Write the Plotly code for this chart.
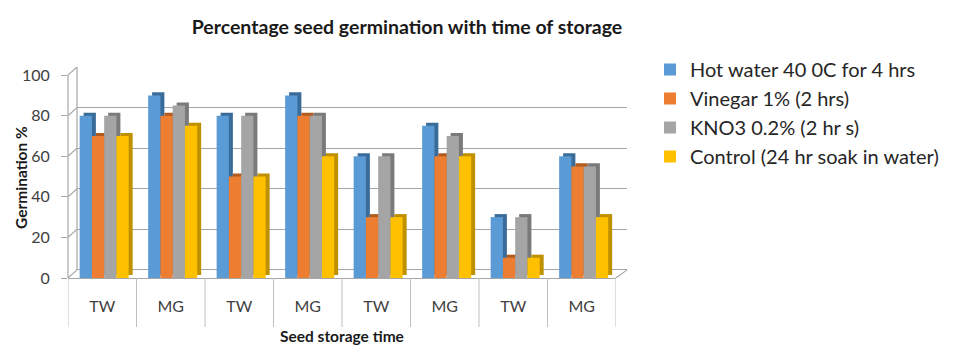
import plotly.graph_objects as go

# ---------------- data ----------------
categories = ["TW", "MG", "TW", "MG", "TW", "MG", "TW", "MG"]
series_names = [
    "Hot water 40 0C for 4 hrs",
    "Vinegar 1% (2 hrs)",
    "KNO3 0.2% (2 hr s)",
    "Control (24 hr soak in water)",
]
hot_water = [80, 90, 80, 90, 60, 75, 30, 60]
vinegar = [70, 80, 50, 80, 30, 60, 10, 55]
kno3 = [80, 85, 80, 80, 60, 70, 30, 55]
control = [70, 75, 50, 60, 30, 60, 10, 30]
y_ticks = [0, 20, 40, 60, 80, 100]

series_values = [hot_water, vinegar, kno3, control]
face_colors = ["#5B9BD5", "#ED7D31", "#A5A5A5", "#FFC000"]
side_colors = ["#3A6C9A", "#B25B1F", "#7A7A7A", "#BF9000"]

# ---------------- geometry (window pixels) ----------------
PAGE_OFF = 8            # default body margin of the html page
W, H = 970 - PAGE_OFF, 347 - PAGE_OFF
FX0, FX1 = 68, 616      # front axis
BX0, BX1 = 77, 627      # back wall
YB, YT = 278, 67        # plot bottom / top (front)
DEPTH = 4               # back wall shift in y units (front range 0..104)

def px(x):
    return (x - PAGE_OFF) / W

def py(y):
    return 1 - (y - PAGE_OFF) / H

x_idx = list(range(len(categories)))
bar_w = 0.179
start = -0.33
side_dx = 0.058
side_dy = 1.5

fig = go.Figure()

# side/top faces (drawn first, behind)
for i, (vals, col) in enumerate(zip(series_values, side_colors)):
    fig.add_trace(go.Bar(
        x=x_idx, y=vals, base=side_dy, width=bar_w,
        offset=start + i * bar_w + side_dx,
        marker=dict(color=col, line=dict(width=0)),
        showlegend=False, hoverinfo="skip",
        xaxis="x2", yaxis="y2",
    ))

# front faces
for i, (name, vals, col) in enumerate(zip(series_names, series_values, face_colors)):
    fig.add_trace(go.Bar(
        x=x_idx, y=vals, width=bar_w,
        offset=start + i * bar_w,
        name=name, legendgroup=f"g{i}",
        marker=dict(color=col, line=dict(width=0)),
        xaxis="x2", yaxis="y2",
    ))

grid_col = "#A6A6A6"
shapes = []
# category separators below the floor
for k in range(len(categories) + 1):
    shapes.append(dict(type="line", xref="x2", yref="paper",
                       x0=k - 0.5, x1=k - 0.5, y0=py(YB), y1=py(327),
                       line=dict(color="#BFBFBF", width=1)))
# back wall left edge
shapes.append(dict(type="line", xref="x domain", yref="y",
                   x0=0, x1=0, y0=0, y1=100,
                   line=dict(color=grid_col, width=1.2)))
# front left edge
shapes.append(dict(type="line", xref="x2 domain", yref="y2",
                   x0=0, x1=0, y0=0, y1=100,
                   line=dict(color=grid_col, width=1.2)))
# left wall diagonals
for v in y_ticks:
    shapes.append(dict(type="line", xref="paper", yref="y",
                       x0=px(FX0), x1=px(BX0), y0=v - DEPTH, y1=v,
                       line=dict(color=grid_col, width=1.2)))
# floor right diagonal
shapes.append(dict(type="line", xref="paper", yref="y",
                   x0=px(FX1), x1=px(BX1), y0=-DEPTH, y1=0,
                   line=dict(color=grid_col, width=1.2)))

font_family = "Lato, Liberation Sans, sans-serif"
txt = "#404040"

fig.update_layout(
    template="none",
    width=W, height=H,
    margin=dict(l=0, r=0, t=0, b=0, autoexpand=False),
    paper_bgcolor="white",
    plot_bgcolor="rgba(0,0,0,0)",
    barmode="overlay",
    font=dict(family=font_family, color=txt),
    title=dict(text="<b>Percentage seed germination with time of storage</b>",
               x=px(407), y=py(27), xanchor="center", yanchor="middle",
               xref="paper", yref="paper",
               font=dict(size=19.5, color="#1a1a1a", family=font_family)),
    # back wall
    xaxis=dict(domain=[px(BX0), px(BX1)], range=[0, 1], showgrid=False,
               showticklabels=False, zeroline=False, showline=False, ticks="",
               automargin=False),
    yaxis=dict(domain=[py(YB), py(YT)], range=[-DEPTH, 100], tickvals=y_ticks,
               showgrid=True, gridcolor=grid_col, gridwidth=1.2,
               showticklabels=False, zeroline=False, showline=False, ticks="",
               anchor="x", automargin=False),
    # front (bars)
    xaxis2=dict(domain=[px(FX0), px(FX1)], range=[-0.5, len(categories) - 0.5],
                tickvals=x_idx, ticktext=categories, showgrid=False,
                zeroline=False, showline=True, linecolor=grid_col, linewidth=1.2,
                ticks="", ticklabelstandoff=14, automargin=False,
                tickfont=dict(size=16, color=txt), anchor="y2"),
    yaxis2=dict(domain=[py(YB), py(YT)], range=[0, 100 + DEPTH], tickvals=y_ticks,
                showgrid=False, zeroline=False, showline=False,
                ticks="outside", ticklen=6, tickcolor=grid_col, tickwidth=1.2,
                ticklabelstandoff=8, automargin=False,
                tickfont=dict(size=16, color=txt), anchor="x2"),
    legend=dict(x=px(650), y=py(50), xanchor="left", yanchor="top",
                font=dict(size=20, color="#262626"), tracegroupgap=0,
                bgcolor="rgba(0,0,0,0)"),
    shapes=shapes,
    annotations=[
        dict(text="<b>Germination %</b>", xref="paper", yref="paper",
             x=px(21), y=py(178), xanchor="center", yanchor="middle",
             textangle=-90, showarrow=False,
             font=dict(size=15.5, color="#1a1a1a")),
        dict(text="<b>Seed storage time</b>", xref="paper", yref="paper",
             x=px(342), y=py(336), xanchor="center", yanchor="middle",
             showarrow=False,
             font=dict(size=15.5, color="#1a1a1a")),
    ],
)

fig.write_html("out.html")
